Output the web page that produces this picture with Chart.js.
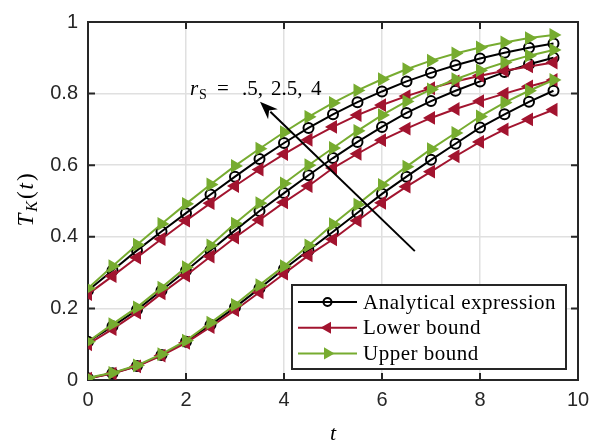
<!DOCTYPE html>
<html>
<head>
<meta charset="utf-8">
<script src="https://cdn.jsdelivr.net/npm/chart.js@4.4.0/dist/chart.umd.min.js"></script>
<style>
  html, body { margin: 0; padding: 0; background: #fff; }
  #myChart { display: block; }
</style>
</head>
<body>
<canvas id="myChart" width="607" height="447" style="width:607px;height:447px"></canvas>
<script>
// time samples
const T = [0, 0.5, 1, 1.5, 2, 2.5, 3, 3.5, 4, 4.5, 5, 5.5, 6, 6.5, 7, 7.5, 8, 8.5, 9, 9.5];

// r_S = 4 (top family)
const upper_rs4 = [0.256, 0.318, 0.378, 0.436, 0.492, 0.546, 0.598, 0.646, 0.692, 0.735, 0.774, 0.809, 0.84, 0.868, 0.892, 0.912, 0.929, 0.943, 0.955, 0.964];
const exact_rs4 = [0.25, 0.306, 0.362, 0.415, 0.466, 0.518, 0.568, 0.617, 0.662, 0.704, 0.742, 0.776, 0.806, 0.834, 0.858, 0.879, 0.898, 0.914, 0.928, 0.94];
const lower_rs4 = [0.24, 0.29, 0.342, 0.394, 0.445, 0.494, 0.542, 0.588, 0.631, 0.671, 0.707, 0.74, 0.768, 0.793, 0.815, 0.834, 0.85, 0.864, 0.876, 0.887];

// r_S = 2.5
const upper_rs25 = [0.107, 0.156, 0.203, 0.258, 0.315, 0.376, 0.437, 0.494, 0.549, 0.6, 0.648, 0.696, 0.74, 0.778, 0.812, 0.84, 0.865, 0.887, 0.906, 0.922];
const exact_rs25 = [0.107, 0.15, 0.196, 0.25, 0.305, 0.362, 0.418, 0.472, 0.522, 0.572, 0.62, 0.665, 0.707, 0.746, 0.779, 0.808, 0.834, 0.86, 0.882, 0.9];
const lower_rs25 = [0.1, 0.142, 0.188, 0.242, 0.292, 0.345, 0.398, 0.447, 0.496, 0.542, 0.592, 0.632, 0.67, 0.702, 0.732, 0.757, 0.779, 0.8, 0.82, 0.838];

// r_S = .5 (bottom family)
const upper_rs05 = [0.006, 0.02, 0.041, 0.072, 0.11, 0.16, 0.21, 0.265, 0.318, 0.376, 0.435, 0.49, 0.545, 0.596, 0.645, 0.69, 0.736, 0.775, 0.808, 0.838];
const exact_rs05 = [0.005, 0.019, 0.039, 0.07, 0.107, 0.154, 0.203, 0.256, 0.31, 0.362, 0.414, 0.467, 0.52, 0.568, 0.615, 0.66, 0.705, 0.742, 0.777, 0.808];
const lower_rs05 = [0.004, 0.018, 0.038, 0.068, 0.104, 0.148, 0.195, 0.245, 0.297, 0.348, 0.393, 0.445, 0.495, 0.54, 0.582, 0.625, 0.665, 0.7, 0.728, 0.755];

const xTicks = [0, 2, 4, 6, 8, 10];
const xTickLabels = ['0', '2', '4', '6', '8', '10'];
const yTicks = [0, 0.2, 0.4, 0.6, 0.8, 1];
const yTickLabels = ['0', '0.2', '0.4', '0.6', '0.8', '1'];
const legendLabels = ['Analytical expression', 'Lower bound', 'Upper bound'];

const BLACK = '#000000';
const RED = '#A2142F';
const GREEN = '#77AC30';
const AXIS = '#262626';
const SANS = '"Liberation Sans", Arial, sans-serif';
const SERIF = '"Liberation Serif", "Times New Roman", serif';

function toPoints(vals) {
    return T.map(function (t, i) { return { x: t, y: vals[i] }; });
}

function series(vals, kind) {
    var ds = {
        data: toPoints(vals),
        borderWidth: 2,
        tension: 0,
        pointBorderWidth: 2,
        pointHoverRadius: 5
    };
    if (kind === 'exact') {
        ds.borderColor = BLACK;
        ds.pointStyle = 'circle';
        ds.pointRadius = 5;
        ds.pointBackgroundColor = 'rgba(0,0,0,0)';
        ds.pointBorderColor = BLACK;
    } else if (kind === 'lower') {
        ds.borderColor = RED;
        ds.pointStyle = 'triangle';
        ds.pointRotation = -90;
        ds.pointRadius = 6;
        ds.pointBackgroundColor = RED;
        ds.pointBorderColor = RED;
    } else {
        ds.borderColor = GREEN;
        ds.pointStyle = 'triangle';
        ds.pointRotation = 90;
        ds.pointRadius = 6;
        ds.pointBackgroundColor = GREEN;
        ds.pointBorderColor = GREEN;
    }
    return ds;
}

// dataset 0 is painted last, so upper bounds sit on top
const datasets = [
    series(upper_rs4, 'upper'), series(upper_rs25, 'upper'), series(upper_rs05, 'upper'),
    series(lower_rs4, 'lower'), series(lower_rs25, 'lower'), series(lower_rs05, 'lower'),
    series(exact_rs4, 'exact'), series(exact_rs25, 'exact'), series(exact_rs05, 'exact')
];

function triangle(ctx, x, y, r, rot, color) {
    ctx.save();
    ctx.translate(x, y);
    ctx.rotate(rot);
    ctx.beginPath();
    ctx.moveTo(0, -r);
    ctx.lineTo(r * 0.866, r * 0.5);
    ctx.lineTo(-r * 0.866, r * 0.5);
    ctx.closePath();
    ctx.fillStyle = color;
    ctx.fill();
    ctx.restore();
}

const decor = {
    id: 'decor',
    beforeDatasetsDraw: function (chart) {
        var ctx = chart.ctx, a = chart.chartArea;
        var xs = chart.scales.x, ys = chart.scales.y;
        ctx.save();
        ctx.strokeStyle = AXIS;
        ctx.lineWidth = 2;
        ctx.strokeRect(a.left, a.top, a.right - a.left, a.bottom - a.top);
        var tl = 7;
        ctx.beginPath();
        xTicks.forEach(function (v) {
            var px = xs.getPixelForValue(v);
            ctx.moveTo(px, a.bottom); ctx.lineTo(px, a.bottom - tl);
            ctx.moveTo(px, a.top); ctx.lineTo(px, a.top + tl);
        });
        yTicks.forEach(function (v) {
            var py = ys.getPixelForValue(v);
            ctx.moveTo(a.left, py); ctx.lineTo(a.left + tl, py);
            ctx.moveTo(a.right, py); ctx.lineTo(a.right - tl, py);
        });
        ctx.stroke();
        ctx.restore();
    },
    afterDraw: function (chart) {
        var ctx = chart.ctx, a = chart.chartArea;
        var xs = chart.scales.x, ys = chart.scales.y;
        ctx.save();

        // arrow from r_S = .5 family towards r_S = 4 family
        var x0 = xs.getPixelForValue(6.67), y0 = ys.getPixelForValue(0.36);
        var x1 = xs.getPixelForValue(3.51), y1 = ys.getPixelForValue(0.777);
        var ang = Math.atan2(y1 - y0, x1 - x0);
        var hl = 18, hw = 7;
        ctx.strokeStyle = BLACK;
        ctx.fillStyle = BLACK;
        ctx.lineWidth = 2;
        ctx.beginPath();
        ctx.moveTo(x0, y0);
        ctx.lineTo(x1 - Math.cos(ang) * hl * 0.8, y1 - Math.sin(ang) * hl * 0.8);
        ctx.stroke();
        ctx.beginPath();
        ctx.moveTo(x1, y1);
        ctx.lineTo(x1 - Math.cos(ang) * hl - Math.sin(ang) * hw, y1 - Math.sin(ang) * hl + Math.cos(ang) * hw);
        ctx.lineTo(x1 - Math.cos(ang) * hl * 0.7, y1 - Math.sin(ang) * hl * 0.7);
        ctx.lineTo(x1 - Math.cos(ang) * hl + Math.sin(ang) * hw, y1 - Math.sin(ang) * hl - Math.cos(ang) * hw);
        ctx.closePath();
        ctx.fill();

        // label r_S = .5, 2.5, 4
        var tx = xs.getPixelForValue(2.08), ty = ys.getPixelForValue(0.795);
        ctx.textBaseline = 'alphabetic';
        ctx.textAlign = 'left';
        ctx.font = 'italic 21px ' + SERIF;
        ctx.fillText('r', tx, ty);
        ctx.font = '14px ' + SERIF;
        ctx.fillText('S', tx + 9, ty + 4);
        ctx.font = '21px ' + SERIF;
        ctx.fillText('=', tx + 27, ty);
        ctx.fillText('.5,', tx + 52, ty);
        ctx.fillText('2.5,', tx + 81, ty);
        ctx.fillText('4', tx + 121, ty);

        // legend box
        var lw = 274, lh = 84;
        var lx = a.right - 12 - lw, ly = a.bottom - 11 - lh;
        ctx.fillStyle = '#ffffff';
        ctx.fillRect(lx, ly, lw, lh);
        ctx.strokeStyle = AXIS;
        ctx.lineWidth = 2;
        ctx.strokeRect(lx, ly, lw, lh);
        var colors = [BLACK, RED, GREEN];
        legendLabels.forEach(function (lab, i) {
            var yy = ly + 17 + i * 25.7;
            var xa = lx + 6, xb = lx + 65, xm = (xa + xb) / 2;
            ctx.strokeStyle = colors[i];
            ctx.lineWidth = 2;
            ctx.beginPath();
            ctx.moveTo(xa, yy); ctx.lineTo(xb, yy);
            ctx.stroke();
            if (i === 0) {
                ctx.lineWidth = 2;
                ctx.beginPath();
                ctx.arc(xm, yy, 4, 0, Math.PI * 2);
                ctx.stroke();
            } else {
                triangle(ctx, xm, yy, 7, i === 1 ? -Math.PI / 2 : Math.PI / 2, colors[i]);
            }
            ctx.fillStyle = '#000';
            ctx.font = '21px ' + SERIF;
            ctx.letterSpacing = '0.5px';
            ctx.textBaseline = 'middle';
            ctx.fillText(lab, lx + 71, yy + 1);
            ctx.letterSpacing = '0px';
        });

        // axis titles
        ctx.fillStyle = '#000';
        ctx.textBaseline = 'middle';
        ctx.textAlign = 'center';
        ctx.font = 'italic 22px ' + SERIF;
        ctx.fillText('t', (a.left + a.right) / 2, 434);

        ctx.translate(25, 199);
        ctx.rotate(-Math.PI / 2);
        ctx.textAlign = 'left';
        ctx.textBaseline = 'alphabetic';
        var parts = [
            ['T', 'italic 23px ', 0],
            ['K', 'italic 16px ', 4],
            ['(', '23px ', 0],
            ['t', 'italic 23px ', 0],
            [')', '23px ', 0]
        ];
        var total = 0;
        parts.forEach(function (p) { ctx.font = p[1] + SERIF; total += ctx.measureText(p[0]).width + 2; });
        var cx = -total / 2;
        parts.forEach(function (p) {
            ctx.font = p[1] + SERIF;
            ctx.fillText(p[0], cx, 8 + p[2]);
            cx += ctx.measureText(p[0]).width + 2;
        });
        ctx.restore();
    }
};

const ctx = document.getElementById('myChart').getContext('2d');
const myChart = new Chart(ctx, {
    type: 'line',
    data: { datasets: datasets },
    plugins: [decor],
    options: {
        responsive: false,
        animation: false,
        layout: { padding: { top: 16, right: 29, left: 0, bottom: 0 } },
        plugins: {
            legend: { display: false },
            tooltip: { enabled: false }
        },
        scales: {
            x: {
                type: 'linear',
                min: 0,
                max: 10,
                afterBuildTicks: function (s) { s.ticks = xTicks.map(function (v) { return { value: v }; }); },
                afterFit: function (s) { s.height = 67; },
                ticks: {
                    callback: function (v, i) { return xTickLabels[i]; },
                    font: { family: SANS, size: 20 },
                    color: AXIS,
                    padding: 8,
                    maxRotation: 0,
                    autoSkip: false
                },
                grid: { color: '#e0e0e0', lineWidth: 1.5, drawTicks: false },
                border: { display: false }
            },
            y: {
                type: 'linear',
                min: 0,
                max: 1,
                afterBuildTicks: function (s) { s.ticks = yTicks.map(function (v) { return { value: v }; }); },
                afterFit: function (s) { s.width = 88; },
                ticks: {
                    callback: function (v, i) { return yTickLabels[i]; },
                    font: { family: SANS, size: 20 },
                    color: AXIS,
                    padding: 10,
                    autoSkip: false
                },
                grid: { color: '#e0e0e0', lineWidth: 1.5, drawTicks: false },
                border: { display: false }
            }
        }
    }
});
</script>
</body>
</html>
